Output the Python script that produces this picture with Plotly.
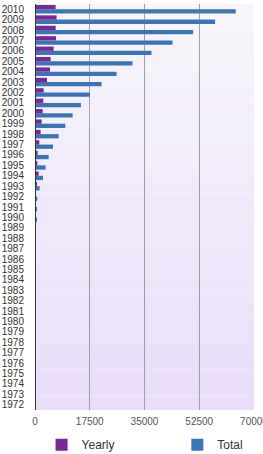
import plotly.graph_objects as go

years = [str(y) for y in range(1972, 2011)]

# values from 1972 .. 2010
yearly = [0]*17 + [100, 150, 150, 100, 530, 1170, 750, 850, 1380, 1810, 2130, 2450, 2660, 2770, 3830, 4790, 5000, 5960, 6700, 6600, 6900, 6600]
total = [0]*17 + [200, 430, 530, 750, 1490, 2550, 3400, 4360, 5750, 7550, 9680, 12020, 14680, 17560, 21280, 26070, 31170, 37240, 43940, 50540, 57560, 64160]

x_ticks = [0, 17500, 35000, 52500, 70000]

font_family = "Liberation Sans, Arial, Helvetica, sans-serif"

fig = go.Figure()
fig.add_trace(go.Bar(y=years, x=total, orientation="h", name="Total",
                     marker=dict(color="#3C74B8", line=dict(width=0)), legend="legend2"))
fig.add_trace(go.Bar(y=years, x=yearly, orientation="h", name="Yearly",
                     marker=dict(color="#7A2896", line=dict(width=0)), legend="legend"))

# soft vertical gradient background
shapes = []
n = 30
c0 = (248, 246, 252)
c1 = (233, 221, 250)
for i in range(n):
    t = i / (n - 1)
    r = int(c0[0] + (c1[0]-c0[0])*t)
    g = int(c0[1] + (c1[1]-c0[1])*t)
    b = int(c0[2] + (c1[2]-c0[2])*t)
    shapes.append(dict(type="rect", xref="paper", yref="paper",
                       x0=0, x1=1, y0=1 - (i+1)/n, y1=1 - i/n,
                       fillcolor=f"rgb({r},{g},{b})", line=dict(width=0), layer="below"))

legend_style = dict(orientation="h", yanchor="top", xanchor="left",
                    font=dict(size=12, color="#333"), bgcolor="rgba(0,0,0,0)")

fig.update_layout(
    width=263, height=454,
    margin=dict(l=35, r=9, t=4, b=44, autoexpand=False),
    paper_bgcolor="white",
    plot_bgcolor="rgba(0,0,0,0)",
    barmode="group",
    bargap=0.18,
    bargroupgap=0.0,
    shapes=shapes,
    font=dict(family=font_family, size=10, color="#333"),
    showlegend=True,
    legend=dict(x=0.03, y=-0.05, **legend_style),
    legend2=dict(x=0.65, y=-0.05, **legend_style),
    xaxis=dict(range=[0, 70000], tickvals=x_ticks, ticktext=[str(v) for v in x_ticks],
               showgrid=True, gridcolor="#A0A0A0", gridwidth=1, zeroline=False,
               showline=False, ticks="", tickfont=dict(size=10, color="#555"),
               ticklabelstandoff=4, ticklabeloverflow="allow", fixedrange=True),
    yaxis=dict(categoryorder="array", categoryarray=years, showgrid=False,
               tickmode="array", tickvals=years, ticktext=years,
               ticks="", tickfont=dict(size=10, color="#333"), ticklen=0,
               ticklabelstandoff=10,
               showline=False, zeroline=False, fixedrange=True),
)
# left axis line at 0
fig.add_shape(type="line", xref="x", yref="paper", x0=0, x1=0, y0=0, y1=1,
              line=dict(color="#333", width=2))

fig.write_html("out.html")
